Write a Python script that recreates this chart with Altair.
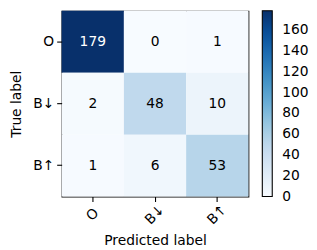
import altair as alt
import pandas as pd

labels = ["O", "B↓", "B↑"]
true_labels = ["O", "O", "O", "B↓", "B↓", "B↓", "B↑", "B↑", "B↑"]
pred_labels = ["O", "B↓", "B↑", "O", "B↓", "B↑", "O", "B↓", "B↑"]
counts = [179, 0, 1, 2, 48, 10, 1, 6, 53]
colorbar_ticks = [0, 20, 40, 60, 80, 100, 120, 140, 160]
blues = ["#f7fbff", "#deebf7", "#c6dbef", "#9ecae1", "#6baed6",
         "#4292c6", "#2171b5", "#08519c", "#08306b"]

vmax = max(counts)
vmin = -0.02  # tiny offset so the "0" colorbar label is centred on the bar's end
dom = [vmin + (vmax - vmin) * i / 8 for i in range(9)]

df = pd.DataFrame({"true": true_labels, "pred": pred_labels, "value": counts})

FONT = "DejaVu Sans"
FS = 13.9

x = alt.X("pred:N", sort=labels, title="Predicted label",
          scale=alt.Scale(paddingInner=0, paddingOuter=0),
          axis=alt.Axis(labelAngle=315, labelAlign="center", labelBaseline="middle",
                        labelPadding=13, tickSize=5, tickColor="black", tickWidth=1.1,
                        domain=False,
                        labelColor="black", labelFontSize=FS, labelFont=FONT,
                        titleFont=FONT, titleFontSize=FS, titleFontWeight="normal",
                        titleColor="black", titlePadding=7))
y = alt.Y("true:N", sort=labels, title="True label",
          scale=alt.Scale(paddingInner=0, paddingOuter=0),
          axis=alt.Axis(tickSize=5, tickColor="black", tickWidth=1.1, domain=False,
                        labelPadding=3,
                        labelColor="black", labelFontSize=FS, labelFont=FONT,
                        titleFont=FONT, titleFontSize=FS, titleFontWeight="normal",
                        titleColor="black", titlePadding=9))

rect = alt.Chart(df).mark_rect().encode(
    x=x, y=y,
    color=alt.Color("value:Q",
                    scale=alt.Scale(domain=dom, range=blues, interpolate="rgb"),
                    legend=alt.Legend(title=None, orient="right", offset=14,
                                      gradientLength=187, gradientThickness=10,
                                      gradientStrokeColor="black", gradientStrokeWidth=1.1,
                                      values=colorbar_ticks, labelOverlap=False,
                                      labelFontSize=FS, labelFont=FONT, labelColor="black",
                                      labelOffset=10))
)

text = alt.Chart(df).mark_text(font=FONT, fontSize=FS).encode(
    x=alt.X("pred:N", sort=labels),
    y=alt.Y("true:N", sort=labels),
    text="value:Q",
    color=alt.condition(alt.datum.value > vmax / 2, alt.value("white"), alt.value("black")),
)

chart = (rect + text).properties(
    width=188, height=187,
    autosize=alt.AutoSizeParams(type="none"),
    padding={"left": 54, "top": 2, "right": 61, "bottom": 53},
).configure_view(stroke="black", strokeWidth=1.1).configure_axis(grid=False)

chart.save("out.html", embed_options={"renderer": "svg", "actions": False})
